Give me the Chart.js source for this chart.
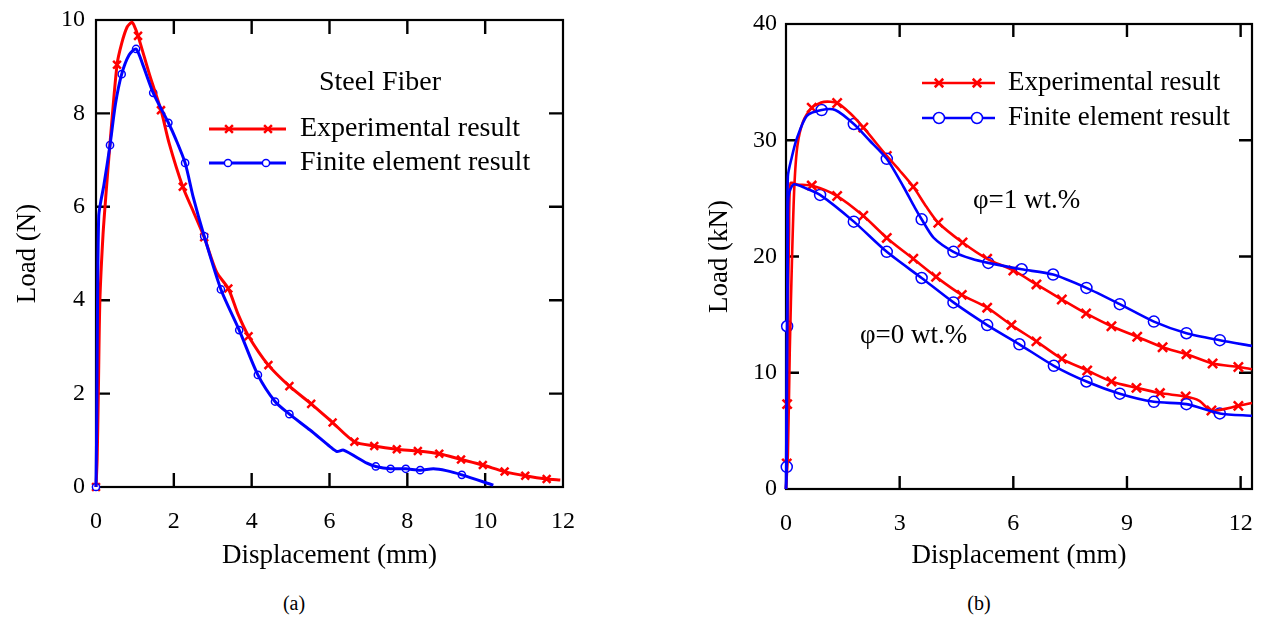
<!DOCTYPE html>
<html><head><meta charset="utf-8">
<script src="https://cdn.jsdelivr.net/npm/chart.js@4/dist/chart.umd.min.js"></script>
<style>
html,body{margin:0;padding:0;background:#fff;}
#wrap{position:relative;width:1262px;height:619px;overflow:hidden;background:#fff;}
#ca{position:absolute;left:0;top:0;}
#cb{position:absolute;left:660px;top:0;}
.cap{position:absolute;font-family:"Liberation Serif";font-size:20px;color:#000;transform:translateX(-50%);line-height:24px;}
</style></head><body>
<div id="wrap">
<canvas id="ca" width="640" height="580"></canvas>
<canvas id="cb" width="602" height="580"></canvas>
<div class="cap" style="left:294px;top:591px">(a)</div>
<div class="cap" style="left:979px;top:591px">(b)</div>
</div>
<script>
// ---------- DATA: chart (a) steel fiber ----------
const steelExpLine = [[0,0],[0.03,0.6],[0.06,2.0],[0.1,4.0],[0.18,5.4],[0.25,6.2],[0.36,7.36],[0.54,9.04],[0.66,9.5],[0.8,9.85],[0.92,9.95],[0.98,9.88],[1.08,9.66],[1.39,8.79],[1.67,8.07],[1.88,7.36],[2.23,6.43],[2.5,5.9],[2.78,5.35],[3.1,4.6],[3.4,4.25],[3.65,3.7],[3.92,3.23],[4.43,2.61],[4.97,2.16],[5.53,1.78],[6.08,1.38],[6.64,0.97],[7.15,0.88],[7.73,0.81],[8.27,0.77],[8.82,0.71],[9.38,0.59],[9.94,0.47],[10.5,0.33],[11.03,0.24],[11.58,0.17],[11.93,0.15]];
const steelExpMarks = [[0,0],[0.54,9.04],[1.08,9.66],[1.67,8.07],[2.23,6.43],[2.78,5.35],[3.4,4.25],[3.92,3.23],[4.43,2.61],[4.97,2.16],[5.53,1.78],[6.08,1.38],[6.64,0.97],[7.15,0.88],[7.73,0.81],[8.27,0.77],[8.82,0.71],[9.38,0.59],[9.94,0.47],[10.5,0.33],[11.03,0.24],[11.58,0.17]];
const steelFeLine = [[0,0],[0.02,1.5],[0.04,4.0],[0.07,5.8],[0.12,6.1],[0.2,6.45],[0.36,7.32],[0.5,8.2],[0.66,8.84],[0.85,9.25],[1.03,9.38],[1.2,9.05],[1.47,8.44],[1.86,7.8],[2.05,7.45],[2.29,6.94],[2.5,6.2],[2.78,5.37],[3.21,4.23],[3.68,3.36],[4.16,2.4],[4.6,1.83],[4.97,1.56],[5.5,1.22],[6.02,0.86],[6.19,0.76],[6.36,0.79],[6.96,0.51],[7.19,0.44],[7.57,0.39],[7.96,0.39],[8.33,0.36],[8.67,0.39],[9.0,0.35],[9.4,0.26],[10.21,0.04]];
const steelFeMarks = [[0,0],[0.36,7.32],[0.66,8.84],[1.03,9.38],[1.47,8.44],[1.86,7.8],[2.29,6.94],[2.78,5.37],[3.21,4.23],[3.68,3.36],[4.16,2.4],[4.6,1.83],[4.97,1.56],[7.19,0.44],[7.57,0.39],[7.96,0.39],[8.33,0.36],[9.4,0.26]];

// ---------- DATA: chart (b) phi = 1 and phi = 0 wt.% ----------
const phi1ExpLine = [[0,0],[0.05,3],[0.1,12],[0.16,20],[0.22,26],[0.3,29.5],[0.45,31.6],[0.68,32.8],[1.0,33.3],[1.35,33.2],[1.7,32.3],[2.04,31.1],[2.66,28.65],[3.0,27.4],[3.36,26.0],[3.7,24.3],[4.02,22.9],[4.66,21.2],[5.31,19.8],[6.0,18.8],[6.61,17.6],[7.28,16.3],[7.92,15.1],[8.59,14.0],[9.27,13.1],[9.94,12.2],[10.57,11.6],[11.26,10.8],[11.94,10.5],[12.3,10.3]];
const phi1ExpMarks = [[0.68,32.8],[1.35,33.2],[2.04,31.1],[2.66,28.65],[3.36,26.0],[4.02,22.9],[4.66,21.2],[5.31,19.8],[6.0,18.8],[6.61,17.6],[7.28,16.3],[7.92,15.1],[8.59,14.0],[9.27,13.1],[9.94,12.2],[10.57,11.6],[11.26,10.8],[11.94,10.5]];
const phi1FeLine = [[0,0],[0.02,10],[0.04,20],[0.05,26.9],[0.15,28.5],[0.28,30.1],[0.55,32.1],[0.94,32.6],[1.3,32.6],[1.79,31.4],[2.2,30.0],[2.66,28.4],[3.1,26.0],[3.4,24.2],[3.58,23.2],[3.9,21.6],[4.42,20.4],[4.9,19.8],[5.34,19.45],[6.22,18.9],[7.05,18.45],[7.93,17.3],[8.81,15.9],[9.71,14.4],[10.57,13.4],[11.45,12.8],[12.3,12.3]];
const phi1FeMarks = [[0.94,32.6],[1.79,31.4],[2.66,28.4],[3.58,23.2],[4.42,20.4],[5.34,19.45],[6.22,18.9],[7.05,18.45],[7.93,17.3],[8.81,15.9],[9.71,14.4],[10.57,13.4],[11.45,12.8]];
const phi0ExpLine = [[0,0],[0.02,2.2],[0.03,7.3],[0.05,15],[0.08,22],[0.12,26.3],[0.3,26.2],[0.68,26.1],[1.35,25.2],[2.04,23.5],[2.66,21.6],[3.36,19.8],[3.96,18.25],[4.64,16.7],[5.31,15.6],[5.95,14.1],[6.61,12.7],[7.28,11.2],[7.95,10.2],[8.59,9.25],[9.25,8.7],[9.87,8.25],[10.55,7.95],[10.9,7.6],[11.23,6.75],[11.94,7.15],[12.3,7.4]];
const phi0ExpMarks = [[0.02,2.2],[0.03,7.3],[0.68,26.1],[1.35,25.2],[2.04,23.5],[2.66,21.6],[3.36,19.8],[3.96,18.25],[4.64,16.7],[5.31,15.6],[5.95,14.1],[6.61,12.7],[7.28,11.2],[7.95,10.2],[8.59,9.25],[9.25,8.7],[9.87,8.25],[10.55,7.95],[11.23,6.75],[11.94,7.15]];
const phi0FeLine = [[0,0],[0.02,1.9],[0.03,14.0],[0.05,22],[0.07,25.3],[0.2,26.2],[0.5,25.9],[0.9,25.3],[1.79,23.0],[2.66,20.4],[3.58,18.15],[4.42,16.05],[5.31,14.1],[6.16,12.45],[7.07,10.6],[7.93,9.25],[8.81,8.2],[9.71,7.5],[10.57,7.3],[11.45,6.5],[12.3,6.3]];
const phi0FeMarks = [[0.02,1.9],[0.03,14.0],[0.9,25.3],[1.79,23.0],[2.66,20.4],[3.58,18.15],[4.42,16.05],[5.31,14.1],[6.16,12.45],[7.07,10.6],[7.93,9.25],[8.81,8.2],[9.71,7.5],[10.57,7.3],[11.45,6.5]];

const legendLabels = ['Experimental result','Finite element result'];
const xTitle = 'Displacement (mm)';
const yTitleA = 'Load (N)';
const yTitleB = 'Load (kN)';
const noteA = 'Steel Fiber';
const notePhi1 = 'φ=1 wt.%';
const notePhi0 = 'φ=0 wt.%';

// ---------- helpers ----------
const RED = '#ff0000', BLUE = '#0000ff';
const FONT = '"Liberation Serif", "Times New Roman", serif';
const pts = a => a.map(p => ({x:p[0], y:p[1]}));

function lineDs(data, color, w){
  return {data: pts(data), borderColor: color, borderWidth: w, pointRadius: 0, pointHoverRadius:0, showLine: true, fill:false, tension: 0.25, clip: false};
}
function crossDs(data, r, w){
  return {data: pts(data), showLine:false, pointStyle:'crossRot', pointRadius:r, pointHoverRadius:r, borderColor: RED, pointBorderWidth:w, borderWidth:w, backgroundColor: RED, clip:false};
}
function circDs(data, r, w){
  return {data: pts(data), showLine:false, pointStyle:'circle', pointRadius:r, pointHoverRadius:r, borderColor: BLUE, pointBorderWidth:w, borderWidth:w, backgroundColor:'#ffffff', clip:false};
}

function drawMarker(ctx, type, x, y, r, w){
  ctx.save();
  ctx.lineWidth = w;
  if (type === 'cross'){
    ctx.strokeStyle = RED;
    const d = r*Math.SQRT1_2;
    ctx.beginPath(); ctx.moveTo(x-d,y-d); ctx.lineTo(x+d,y+d); ctx.moveTo(x-d,y+d); ctx.lineTo(x+d,y-d); ctx.stroke();
  } else {
    ctx.strokeStyle = BLUE; ctx.fillStyle = '#fff';
    ctx.beginPath(); ctx.arc(x,y,r,0,Math.PI*2); ctx.fill(); ctx.stroke();
  }
  ctx.restore();
}

const framePlugin = {
  id:'frameTicks',
  beforeDatasetsDraw(chart, args, o){
    const {ctx, chartArea:a, scales:{x,y}} = chart;
    ctx.save();
    ctx.strokeStyle = '#000'; ctx.lineWidth = 2.2;
    ctx.strokeRect(a.left, a.top, a.right-a.left, a.bottom-a.top);
    const L = o.len;
    ctx.lineWidth = 2.4;
    ctx.beginPath();
    x.ticks.forEach(t => {
      const px = x.getPixelForValue(t.value);
      if (px <= a.left+1 || px >= a.right-1) return;
      ctx.moveTo(px, a.bottom); ctx.lineTo(px, a.bottom-L);
      ctx.moveTo(px, a.top); ctx.lineTo(px, a.top+L);
    });
    y.ticks.forEach(t => {
      const py = y.getPixelForValue(t.value);
      if (py <= a.top+1 || py >= a.bottom-1) return;
      ctx.moveTo(a.left, py); ctx.lineTo(a.left+L, py);
      ctx.moveTo(a.right, py); ctx.lineTo(a.right-L, py);
    });
    ctx.stroke();
    ctx.restore();
  }
};

const notesPlugin = {
  id:'notes',
  afterDraw(chart, args, o){
    const ctx = chart.ctx;
    ctx.save();
    ctx.fillStyle = '#000';
    ctx.textBaseline = 'middle';
    (o.texts||[]).forEach(t => {
      ctx.font = t.size + 'px ' + FONT;
      ctx.textAlign = t.align || 'left';
      ctx.fillText(t.text, t.x, t.y);
    });
    (o.legend||[]).forEach(l => {
      ctx.save();
      ctx.strokeStyle = l.color; ctx.lineWidth = l.lw;
      ctx.beginPath(); ctx.moveTo(l.x0, l.y); ctx.lineTo(l.x1, l.y); ctx.stroke();
      ctx.restore();
      l.marks.forEach(mx => drawMarker(ctx, l.type, mx, l.y, l.r, l.mw));
      ctx.font = l.size + 'px ' + FONT;
      ctx.textAlign = 'left';
      ctx.fillStyle = '#000';
      ctx.fillText(l.text, l.tx, l.y);
    });
    ctx.restore();
  }
};

function makeOptions(cfg){
  return {
    responsive:false, animation:false, devicePixelRatio:1,
    layout:{padding:{left:0, right:cfg.padRight, top:cfg.padTop, bottom:0}},
    plugins:{legend:{display:false}, tooltip:{enabled:false},
      frameTicks:{len:cfg.tickLen},
      notes:{texts:cfg.texts, legend:cfg.legend}},
    scales:{
      x:{type:'linear', min:0, max:cfg.xMax,
        grid:{display:false, drawTicks:false}, border:{display:false},
        ticks:{stepSize:cfg.xStep, includeBounds:false, color:'#000', font:{family:FONT, size:24}, padding:cfg.xPad, maxRotation:0},
        title:{display:true, text:xTitle, color:'#000', font:{family:FONT, size:27}, padding:{top:0,bottom:cfg.xTitlePad}},
        afterFit(s){ s.height = cfg.xH; s.paddingLeft = 0; s.paddingRight = 0; }
      },
      y:{type:'linear', min:0, max:cfg.yMax,
        grid:{display:false, drawTicks:false}, border:{display:false},
        ticks:{stepSize:cfg.yStep, includeBounds:false, color:'#000', font:{family:FONT, size:24}, padding:cfg.yPad},
        title:{display:true, text:cfg.yTitle, color:'#000', font:{family:FONT, size:27}, padding:{top:cfg.yTitlePad,bottom:0}},
        afterFit(s){ s.width = cfg.yW; s.paddingTop = 0; s.paddingBottom = 0; }
      }
    }
  };
}

// ---------- chart (a) ----------
new Chart(document.getElementById('ca'), {
  type:'scatter',
  data:{datasets:[
    lineDs(steelFeLine, BLUE, 3),
    lineDs(steelExpLine, RED, 3),
    circDs(steelFeMarks, 3.6, 1.5),
    crossDs(steelExpMarks, 5.5, 2.5)
  ]},
  options: makeOptions({
    padRight:77, padTop:20, xH:93, yW:96, xMax:12, xStep:2, yMax:10, yStep:2,
    xPad:20, yPad:11, xTitlePad:8, yTitlePad:12, yTitle:yTitleA, tickLen:14,
    texts:[{text:noteA, x:380, y:83, size:28, align:'center'}],
    legend:[
      {color:RED, lw:3, x0:209, x1:286, y:129, marks:[229,268], type:'cross', r:5.5, mw:2.5, text:legendLabels[0], tx:300, size:28},
      {color:BLUE, lw:3, x0:209, x1:286, y:163, marks:[228,266], type:'circ', r:3.6, mw:1.5, text:legendLabels[1], tx:300, size:28}
    ]
  }),
  plugins:[framePlugin, notesPlugin]
});

// ---------- chart (b) ----------
new Chart(document.getElementById('cb'), {
  type:'scatter',
  data:{datasets:[
    lineDs(phi1FeLine, BLUE, 2.6),
    lineDs(phi0FeLine, BLUE, 2.6),
    lineDs(phi1ExpLine, RED, 2.6),
    lineDs(phi0ExpLine, RED, 2.6),
    circDs(phi1FeMarks, 5.5, 1.5),
    circDs(phi0FeMarks, 5.5, 1.5),
    crossDs(phi1ExpMarks, 6.5, 2.5),
    crossDs(phi0ExpMarks, 6.5, 2.5)
  ]},
  options: makeOptions({
    padRight:10, padTop:24, xH:91, yW:126, xMax:12.3, xStep:3, yMax:40, yStep:10,
    xPad:20, yPad:9, xTitlePad:8, yTitlePad:44, yTitle:yTitleB, tickLen:13,
    texts:[{text:notePhi1, x:313, y:201, size:27, align:'left'},{text:notePhi0, x:200, y:336, size:27, align:'left'}],
    legend:[
      {color:RED, lw:2.6, x0:262, x1:335, y:83, marks:[279,317], type:'cross', r:6, mw:2.5, text:legendLabels[0], tx:348, size:27},
      {color:BLUE, lw:2.6, x0:262, x1:335, y:118, marks:[279,317], type:'circ', r:5.5, mw:1.5, text:legendLabels[1], tx:348, size:27}
    ]
  }),
  plugins:[framePlugin, notesPlugin]
});
</script>
</body></html>
